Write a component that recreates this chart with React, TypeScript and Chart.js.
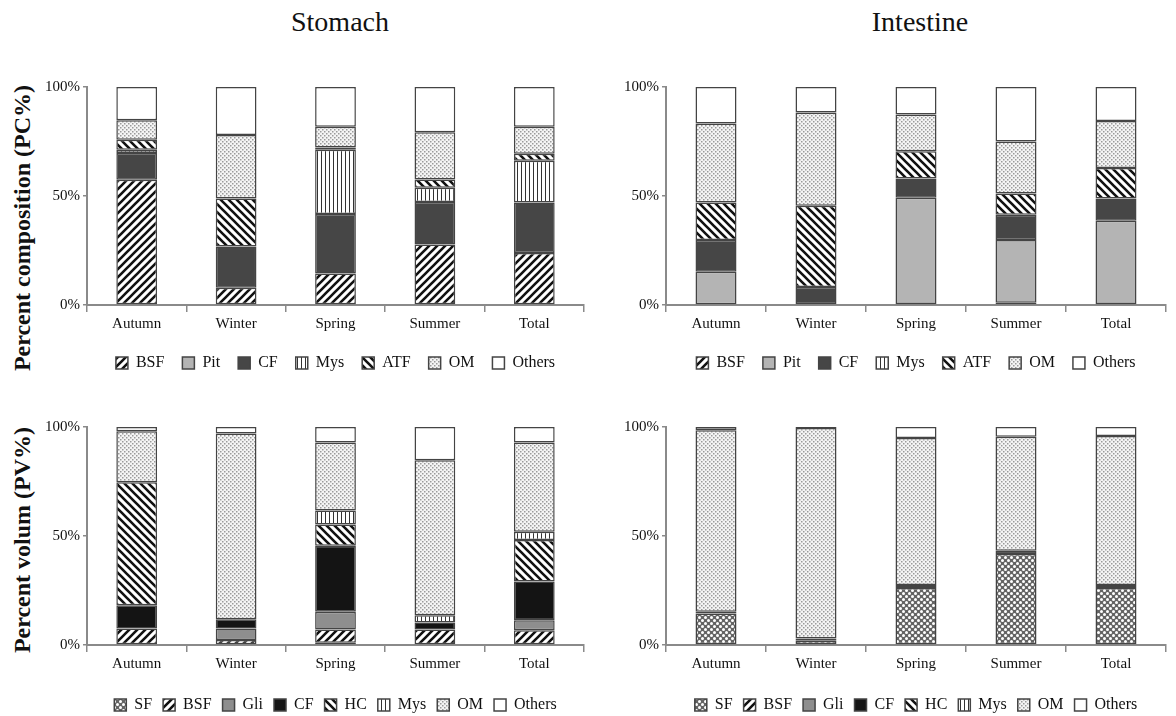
import React, { useEffect, useRef } from "react";
import { Chart, registerables } from "chart.js";

Chart.register(...registerables);

const FONT = "'Liberation Serif', 'Times New Roman', serif";

// ---- Data ----
const seasons = ["Autumn", "Winter", "Spring", "Summer", "Total"];
const yTicks = [0, 50, 100];

// Stomach – percent composition (PC%)
const pcSeries = ["BSF", "Pit", "CF", "Mys", "ATF", "OM", "Others"];
const stomachPcBSF = [57.5, 7.9, 14.4, 27.7, 23.8];
const stomachPcPit = [0, 0, 0, 0, 0];
const stomachPcCF = [12.2, 18.9, 27.3, 19.6, 23.2];
const stomachPcMys = [1.5, 0, 29.5, 6.5, 19.2];
const stomachPcATF = [4.6, 22.0, 1.1, 3.8, 3.2];
const stomachPcOM = [9.0, 29.2, 9.5, 21.6, 12.4];
const stomachPcOthers = [15.2, 22.0, 18.2, 20.8, 18.2];

// Intestine – percent composition (PC%)
const intestinePcBSF = [0, 0, 0.5, 1.0, 0.5];
const intestinePcPit = [15.2, 0, 48.7, 28.8, 38.1];
const intestinePcCF = [14.6, 8.3, 8.8, 11.6, 10.2];
const intestinePcMys = [0, 0, 0, 0, 0];
const intestinePcATF = [17.2, 37.2, 12.5, 9.7, 14.1];
const intestinePcOM = [36.3, 42.8, 16.9, 23.9, 21.5];
const intestinePcOthers = [16.7, 11.7, 12.6, 25.0, 15.6];

// Stomach – percent volume (PV%)
const pvSeries = ["SF", "BSF", "Gli", "CF", "HC", "Mys", "OM", "Others"];
const stomachPvSF = [0, 0, 1.0, 0, 0];
const stomachPvBSF = [7.6, 2.3, 6.1, 7.1, 6.8];
const stomachPvGli = [0, 5.3, 8.1, 0, 4.6];
const stomachPvCF = [10.6, 4.2, 30.3, 3.2, 17.7];
const stomachPvHC = [56.5, 0, 9.8, 0, 19.1];
const stomachPvMys = [0, 0, 6.4, 3.3, 3.8];
const stomachPvOM = [23.3, 85.2, 31.2, 71.2, 40.9];
const stomachPvOthers = [2.0, 3.0, 7.1, 15.2, 7.1];

// Intestine – percent volume (PV%)
const intestinePvSF = [14.5, 2.0, 26.2, 41.7, 26.2];
const intestinePvBSF = [0, 0, 0, 0, 0];
const intestinePvGli = [0, 0, 0, 0, 0];
const intestinePvCF = [0.8, 1.0, 1.3, 1.5, 1.3];
const intestinePvHC = [0, 0, 0, 0, 0];
const intestinePvMys = [0, 0, 0, 0, 0];
const intestinePvOM = [83.2, 96.5, 67.5, 52.3, 68.4];
const intestinePvOthers = [1.5, 0.5, 5.0, 4.5, 4.1];

// ---- Patterns ----
function tile(w: number, h: number, draw: (c: CanvasRenderingContext2D) => void) {
  const cv = document.createElement("canvas");
  cv.width = w;
  cv.height = h;
  const c = cv.getContext("2d")!;
  draw(c);
  return c.createPattern(cv, "repeat")!;
}

function hatch(forward: boolean) {
  const s = 8;
  return tile(s, s, (c) => {
    c.fillStyle = "#fff";
    c.fillRect(0, 0, s, s);
    c.strokeStyle = "#111";
    c.lineWidth = 2.6;
    c.beginPath();
    if (forward) {
      c.moveTo(-1, s + 1); c.lineTo(s + 1, -1);
      c.moveTo(-1, 1); c.lineTo(1, -1);
      c.moveTo(s - 1, s + 1); c.lineTo(s + 1, s - 1);
    } else {
      c.moveTo(-1, -1); c.lineTo(s + 1, s + 1);
      c.moveTo(-1, s - 1); c.lineTo(1, s + 1);
      c.moveTo(s - 1, -1); c.lineTo(s + 1, 1);
    }
    c.stroke();
  });
}

function vertical() {
  return tile(4, 4, (c) => {
    c.fillStyle = "#fff";
    c.fillRect(0, 0, 4, 4);
    c.fillStyle = "#333";
    c.fillRect(1, 0, 1, 4);
  });
}

function dots() {
  return tile(4, 4, (c) => {
    c.fillStyle = "#f4f4f4";
    c.fillRect(0, 0, 4, 4);
    c.fillStyle = "#9a9a9a";
    c.fillRect(0, 0, 1.5, 1.5);
    c.fillRect(2, 2, 1.5, 1.5);
  });
}

function sfPattern() {
  return tile(6, 6, (c) => {
    c.fillStyle = "#646464";
    c.fillRect(0, 0, 6, 6);
    c.fillStyle = "#fff";
    c.beginPath();
    c.arc(1.5, 1.5, 1.5, 0, Math.PI * 2);
    c.arc(4.5, 4.5, 1.5, 0, Math.PI * 2);
    c.fill();
  });
}

type Fill = string | CanvasPattern;

function makeDatasets(names: string[], values: number[][], fills: Fill[]) {
  return names.map((name, i) => ({
    label: name,
    data: values[i],
    backgroundColor: fills[i],
    borderColor: "#444444",
    borderWidth: 1.5,
    borderSkipped: false as const,
    barPercentage: 0.41,
    categoryPercentage: 1,
    stack: "s",
  }));
}

interface PanelProps {
  left: number;
  top: number;
  width: number;
  height: number;
  kind: "pc-stomach" | "pc-intestine" | "pv-stomach" | "pv-intestine";
  xHeight: number;
  legendPad: number;
}

function Panel({ left, top, width, height, kind, xHeight, legendPad }: PanelProps) {
  const ref = useRef<HTMLCanvasElement>(null);
  useEffect(() => {
    const fwd = hatch(true);
    const back = hatch(false);
    const vert = vertical();
    const om = dots();
    const sf = sfPattern();
    let datasets;
    if (kind === "pc-stomach") {
      datasets = makeDatasets(
        pcSeries,
        [stomachPcBSF, stomachPcPit, stomachPcCF, stomachPcMys, stomachPcATF, stomachPcOM, stomachPcOthers],
        [fwd, "#b4b4b4", "#464646", vert, back, om, "#ffffff"]
      );
    } else if (kind === "pc-intestine") {
      datasets = makeDatasets(
        pcSeries,
        [intestinePcBSF, intestinePcPit, intestinePcCF, intestinePcMys, intestinePcATF, intestinePcOM, intestinePcOthers],
        [fwd, "#b4b4b4", "#464646", vert, back, om, "#ffffff"]
      );
    } else if (kind === "pv-stomach") {
      datasets = makeDatasets(
        pvSeries,
        [stomachPvSF, stomachPvBSF, stomachPvGli, stomachPvCF, stomachPvHC, stomachPvMys, stomachPvOM, stomachPvOthers],
        [sf, fwd, "#8e8e8e", "#141414", back, vert, om, "#ffffff"]
      );
    } else {
      datasets = makeDatasets(
        pvSeries,
        [intestinePvSF, intestinePvBSF, intestinePvGli, intestinePvCF, intestinePvHC, intestinePvMys, intestinePvOM, intestinePvOthers],
        [sf, fwd, "#8e8e8e", "#141414", back, vert, om, "#ffffff"]
      );
    }
    const axisColor = "#8a8a8a";
    const chart = new Chart(ref.current!, {
      type: "bar",
      data: { labels: seasons, datasets },
      options: {
        responsive: false,
        animation: false,
        devicePixelRatio: 1,
        layout: { padding: { top: 10, right: 8, left: 0, bottom: 0 } },
        plugins: {
          legend: {
            position: "bottom",
            fullSize: false,
            labels: {
              boxWidth: 12,
              boxHeight: 12,
              padding: legendPad,
              color: "#111",
              font: { family: FONT, size: 16 },
            },
          },
          tooltip: { enabled: false },
          title: { display: false },
        },
        scales: {
          x: {
            stacked: true,
            grid: {
              display: true,
              drawOnChartArea: false,
              drawTicks: true,
              tickLength: 7,
              color: axisColor,
              lineWidth: 1.5,
              offset: true,
            },
            border: { display: true, color: axisColor, width: 2 },
            ticks: { color: "#111", font: { family: FONT, size: 15 }, padding: 3, maxRotation: 0 },
            afterFit: (s: any) => {
              s.height = xHeight;
            },
          },
          y: {
            stacked: true,
            min: 0,
            max: 100,
            afterBuildTicks: (s: any) => {
              s.ticks = yTicks.map((v) => ({ value: v }));
            },
            ticks: {
              color: "#111",
              font: { family: FONT, size: 15 },
              padding: 3,
              callback: (v: any) => v + "%",
            },
            grid: { drawOnChartArea: false, drawTicks: true, tickLength: 4, color: axisColor, lineWidth: 1.5 },
            border: { display: true, color: axisColor, width: 2 },
            afterFit: (s: any) => {
              s.width = 55;
            },
          },
        },
      },
    } as any);
    return () => chart.destroy();
  }, []);
  return (
    <canvas
      ref={ref}
      width={width}
      height={height}
      style={{ position: "absolute", left, top, width, height }}
    />
  );
}

const titleStyle: React.CSSProperties = {
  position: "absolute",
  top: 6,
  width: 240,
  textAlign: "center",
  fontFamily: FONT,
  fontSize: 28,
  lineHeight: "32px",
  color: "#111",
};

const yTitleStyle: React.CSSProperties = {
  position: "absolute",
  width: 340,
  height: 30,
  lineHeight: "30px",
  textAlign: "center",
  fontFamily: FONT,
  fontSize: 24,
  fontWeight: "bold",
  color: "#111",
  transform: "rotate(-90deg)",
  whiteSpace: "nowrap",
};

export default function App() {
  return (
    <div
      style={{
        position: "fixed",
        left: 0,
        top: 0,
        width: 1176,
        height: 716,
        overflow: "hidden",
        background: "#ffffff",
      }}
    >
      <div style={{ ...titleStyle, left: 340 - 120 }}>Stomach</div>
      <div style={{ ...titleStyle, left: 920 - 120 }}>Intestine</div>
      <div style={{ ...yTitleStyle, left: 22 - 170, top: 228 - 15 }}>Percent composition (PC%)</div>
      <div style={{ ...yTitleStyle, left: 22 - 170, top: 540 - 15 }}>Percent volum (PV%)</div>
      <Panel left={32} top={75} width={560} height={306} kind="pc-stomach" xHeight={32} legendPad={18} />
      <Panel left={611} top={75} width={563} height={306} kind="pc-intestine" xHeight={32} legendPad={18} />
      <Panel left={32} top={415} width={560} height={308} kind="pv-stomach" xHeight={41} legendPad={11} />
      <Panel left={611} top={415} width={563} height={308} kind="pv-intestine" xHeight={41} legendPad={11} />
    </div>
  );
}
